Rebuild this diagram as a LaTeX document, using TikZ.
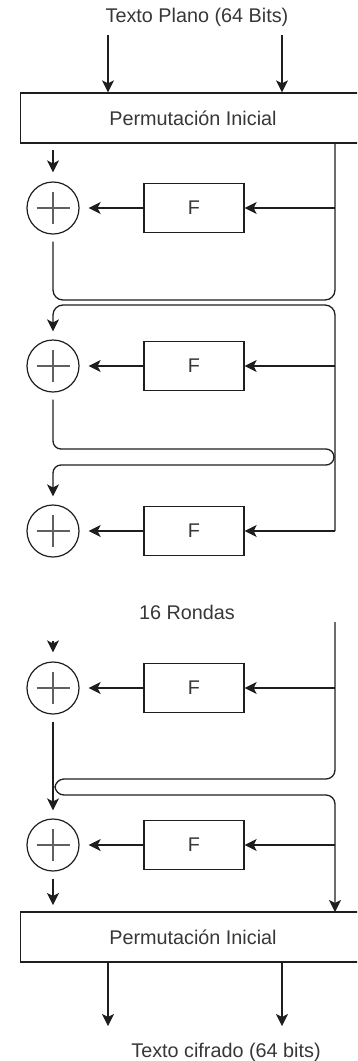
\documentclass[tikz,border=0pt]{standalone}
\usepackage{fontspec}
\setmainfont{Liberation Sans}
\usetikzlibrary{arrows.meta}
\definecolor{ink}{RGB}{30,30,30}
\definecolor{txt}{RGB}{55,55,55}
\tikzset{
  ln/.style={draw=ink, line width=1.3pt},
  arr/.style={ln, -{Stealth[length=12pt,width=12pt,inset=3pt]}},
  permbox/.style={ln, rectangle, minimum width=345pt, minimum height=50pt, inner sep=0pt},
  fbox/.style={ln, rectangle, minimum width=100pt, minimum height=49pt, inner sep=0pt, font=\fontsize{19.8}{23}\selectfont, text=txt},
  xorc/.style={draw=ink, line width=1.2pt, circle, minimum size=52pt, inner sep=0pt},
  lbl/.style={font=\fontsize{19.8}{23}\selectfont, text=txt, inner sep=0pt},
}
\newcommand{\xorplus}[1]{%
  \draw[line width=2.2pt, draw=gray!75!black] ([xshift=-16.5pt]#1.center) -- ([xshift=16.5pt]#1.center);
  \draw[line width=2.2pt, draw=gray!75!black] ([yshift=-16pt]#1.center) -- ([yshift=16pt]#1.center);}
\begin{document}
\begin{tikzpicture}[x=1pt,y=-1pt]
\useasboundingbox (0,0) rectangle (357,1061);
\clip (0,0) rectangle (357,1061);
% texts
\node[lbl] (tin) at (197,17) {Texto Plano (64 Bits)};
\node[lbl] (rondas) at (187,612) {16 Rondas};
\node[lbl] (tout) at (226,1052) {Texto cifrado (64 bits)};
% permutation boxes
\node[permbox] (pi1) at (193,118) {};
\node[lbl] (pi1t) at (193,118) {Permutación Inicial};
\node[permbox] (pi2) at (193,937) {};
\node[lbl] (pi2t) at (193,937) {Permutación Inicial};
% xor circles and F boxes
\foreach \i/\y in {1/208,2/366,3/531,4/688,5/845}{
  \node[xorc] (x\i) at (53,\y) {};
  \xorplus{x\i}
  \node[fbox] (f\i) at (194,\y) {F};
  \coordinate (r\i) at (335,\y);
  \draw[arr] (r\i) -- (f\i.east);
  \draw[arr, shorten >=9pt] (f\i.west) -- (x\i.east);
}
% coordinates
\coordinate (a1) at (108,35);
\coordinate (a2) at (282,35);
\coordinate (b1) at (108,1026);
\coordinate (b2) at (282,1026);
\coordinate (in1) at (53,150);
\coordinate (rt) at (335,143);
\coordinate (rtop4) at (335,622);
\coordinate (rbot) at (335,912);
\coordinate (lout5) at (53,905);
% top arrows
\draw[arr] (a1) -- (a1 |- pi1.north);
\draw[arr] (a2) -- (a2 |- pi1.north);
\draw[arr, shorten >=9pt] (in1) -- (x1.north);
% crossing 1
\draw[ln, rounded corners=10pt, shorten <=7pt] (x1.south) -- (53,300) -- (335,300) -- (rt);
\draw[arr, rounded corners=10pt, shorten >=8pt] (r3) -- (335,305) -- (53,305) -- (x2.north);
% crossing 2
\draw[arr, rounded corners=8pt, shorten <=7pt, shorten >=8pt] (x2.south) -- (53,449) -- (334,449) -- (334,465) -- (53,465) -- (x3.north);
% round 4
\draw[arr, shorten >=9pt] (53,641) -- (x4.north);
\draw[arr, rounded corners=9pt] (rtop4) -- (335,779) -- (55,779) -- (55,795) -- (335,795) -- (rbot);
\draw[arr, shorten <=7pt, shorten >=8pt] (x4.south) -- (x5.north);
\draw[arr, shorten <=7pt] (x5.south) -- (lout5);
% bottom arrows
\draw[arr] (b1 |- pi2.south) -- (b1);
\draw[arr] (b2 |- pi2.south) -- (b2);
\end{tikzpicture}
\end{document}
